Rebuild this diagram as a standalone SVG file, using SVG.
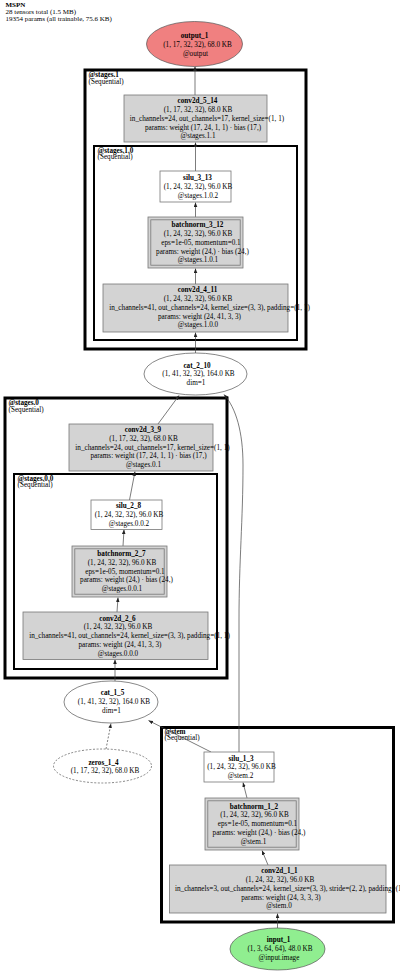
<svg xmlns="http://www.w3.org/2000/svg" width="400" height="973" viewBox="0 0 400 973">
<style>
text{font-family:"Liberation Serif","Times New Roman",serif;font-size:7.2px;fill:#000;text-anchor:middle}
.b{font-weight:bold}
.l{text-anchor:start}
.ttl{font-size:7px;text-anchor:start}
.box{fill:#d3d3d3;stroke:#777;stroke-width:0.8}
.wbox{fill:#fff;stroke:#777;stroke-width:0.8}
.in{fill:none;stroke:#777;stroke-width:0.8}
.ell{fill:#fff;stroke:#555;stroke-width:0.7}
.clu{fill:none;stroke:#000;stroke-width:3}
.clu2{fill:none;stroke:#000;stroke-width:2}
.e{fill:none;stroke:#444;stroke-width:0.7;marker-end:url(#a)}
</style>
<defs>
<marker id="a" markerUnits="userSpaceOnUse" markerWidth="5" markerHeight="4" refX="4.5" refY="2" orient="auto"><path d="M0,0.2 L4.5,2 L0,3.8 z" fill="#222"/></marker>
</defs>
<rect width="400" height="973" fill="#fff"/>
<text class="ttl b" x="5.5" y="7.2">MSPN</text>
<text class="ttl" x="5.5" y="14.3">28 tensors total (1.5 MB)</text>
<text class="ttl" x="5.5" y="21.4">19354 params (all trainable, 75.6 KB)</text>

<g id="clusters">
<g id="stages.1"><rect class="clu" x="85" y="70" width="221" height="279"/><text class="l b" x="88.5" y="77.3">@stages.1</text><text class="l" x="88.5" y="83.8">(Sequential)</text></g>
<g id="stages.1.0"><rect class="clu2" x="94" y="146" width="203" height="194"/><text class="l b" x="97.5" y="152.6">@stages.1.0</text><text class="l" x="97.5" y="159.1">(Sequential)</text></g>
<g id="stages.0"><rect class="clu" x="5" y="398" width="222" height="280"/><text class="l b" x="8.5" y="405">@stages.0</text><text class="l" x="8.5" y="411.6">(Sequential)</text></g>
<g id="stages.0.0"><rect class="clu2" x="14" y="474" width="203" height="195"/><text class="l b" x="17.5" y="480.6">@stages.0.0</text><text class="l" x="17.5" y="487.2">(Sequential)</text></g>
<g id="stem"><rect class="clu" x="161.5" y="727.5" width="232" height="194.5"/><text class="l b" x="164.5" y="733.8">@stem</text><text class="l" x="164.5" y="740.4">(Sequential)</text></g>
</g>

<g id="connectors">
<path class="e" d="M277.5,928 L277.5,913.5"/>
<path class="e" d="M268,865 L262,850.5"/>
<path class="e" d="M247,798 L243,782.5"/>
<path class="e" d="M211,752 L148.5,720.5"/>
<path class="e" d="M239,752 L239,620 C239,560 243,520 243,465 C243,432 236,408 224,394.5"/>
<path class="e" d="M106,749 L111,723.5" stroke-dasharray="2,1.6"/>
<path class="e" d="M115,681 L115,659.5"/>
<path class="e" d="M117,612 L118,597.5"/>
<path class="e" d="M123,546 L124,529.5"/>
<path class="e" d="M129.5,500 L135,471.5"/>
<path class="e" d="M158,424 L179,395.5"/>
<path class="e" d="M195.5,353 L195.5,332.5"/>
<path class="e" d="M195.5,284 L195.5,268.5"/>
<path class="e" d="M195.5,217 L195.5,202.5"/>
<path class="e" d="M195.5,171 L195.5,142.5"/>
<path class="e" d="M195,95 L195,66.5"/>
</g>

<g id="output_1">
<ellipse cx="194.5" cy="44" rx="48" ry="22.5" fill="#f08080" stroke="#555" stroke-width="0.7"/>
<text class="b" x="194.5" y="38.4">output_1</text>
<text x="197.5" y="47.2">(1, 17, 32, 32), 68.0 KB</text>
<text x="195.5" y="56">@output</text>
</g>

<g id="conv2d_5_14">
<rect class="box" x="124" y="95" width="143" height="47"/>
<text class="b" x="197.5" y="103.3">conv2d_5_14</text>
<text x="198" y="112.05">(1, 17, 32, 32), 68.0 KB</text>
<text x="207" y="120.8">in_channels=24, out_channels=17, kernel_size=(1, 1)</text>
<text x="203" y="129.55">params: weight (17, 24, 1, 1) · bias (17,)</text>
<text x="198" y="138.3">@stages.1.1</text>
</g>

<g id="silu_3_13">
<rect class="wbox" x="160" y="171" width="71" height="31"/>
<text class="b" x="197.5" y="180.05">silu_3_13</text>
<text x="198" y="188.8">(1, 24, 32, 32), 96.0 KB</text>
<text x="198" y="197.55">@stages.1.0.2</text>
</g>

<g id="batchnorm_3_12">
<rect class="box" x="148" y="217" width="95" height="51"/>
<rect class="in" x="150.8" y="219.8" width="89.4" height="45.4"/>
<text class="b" x="197.5" y="227.3">batchnorm_3_12</text>
<text x="198" y="236.05">(1, 24, 32, 32), 96.0 KB</text>
<text x="201" y="244.8">eps=1e-05, momentum=0.1</text>
<text x="202.5" y="253.55">params: weight (24,) · bias (24,)</text>
<text x="198" y="262.3">@stages.1.0.1</text>
</g>

<g id="conv2d_4_11">
<rect class="box" x="103" y="284" width="185" height="48"/>
<text class="b" x="197.5" y="292.3">conv2d_4_11</text>
<text x="198" y="301.05">(1, 24, 32, 32), 96.0 KB</text>
<text x="209.5" y="309.8">in_channels=41, out_channels=24, kernel_size=(3, 3), padding=(1, 1)</text>
<text x="199.5" y="318.55">params: weight (24, 41, 3, 3)</text>
<text x="198" y="327.3">@stages.1.0.0</text>
</g>

<g id="cat_2_10">
<ellipse class="ell" cx="195.5" cy="374" rx="51.5" ry="21"/>
<text class="b" x="197" y="367.5">cat_2_10</text>
<text x="198.5" y="376.3">(1, 41, 32, 32), 164.0 KB</text>
<text x="196" y="385">dim=1</text>
</g>

<g id="conv2d_3_9">
<rect class="box" x="69" y="424" width="144" height="47"/>
<text class="b" x="143" y="432">conv2d_3_9</text>
<text x="143.5" y="440.75">(1, 17, 32, 32), 68.0 KB</text>
<text x="152.5" y="449.5">in_channels=24, out_channels=17, kernel_size=(1, 1)</text>
<text x="148.5" y="458.25">params: weight (17, 24, 1, 1) · bias (17,)</text>
<text x="143.5" y="467">@stages.0.1</text>
</g>

<g id="silu_2_8">
<rect class="wbox" x="91" y="500" width="71" height="29.5"/>
<text class="b" x="128.5" y="508.05">silu_2_8</text>
<text x="129" y="516.8">(1, 24, 32, 32), 96.0 KB</text>
<text x="129" y="525.55">@stages.0.0.2</text>
</g>

<g id="batchnorm_2_7">
<rect class="box" x="72" y="546" width="95" height="51"/>
<rect class="in" x="74.8" y="548.8" width="89.4" height="45.4"/>
<text class="b" x="121.5" y="556">batchnorm_2_7</text>
<text x="122" y="564.75">(1, 24, 32, 32), 96.0 KB</text>
<text x="125" y="573.5">eps=1e-05, momentum=0.1</text>
<text x="126.5" y="582.25">params: weight (24,) · bias (24,)</text>
<text x="122" y="591">@stages.0.0.1</text>
</g>

<g id="conv2d_2_6">
<rect class="box" x="23" y="612" width="185" height="47.5"/>
<text class="b" x="117.5" y="620.5">conv2d_2_6</text>
<text x="118" y="629.25">(1, 24, 32, 32), 96.0 KB</text>
<text x="129.5" y="638">in_channels=41, out_channels=24, kernel_size=(3, 3), padding=(1, 1)</text>
<text x="120" y="646.75">params: weight (24, 41, 3, 3)</text>
<text x="118" y="655.5">@stages.0.0.0</text>
</g>

<g id="cat_1_5">
<ellipse class="ell" cx="111" cy="702" rx="47" ry="21"/>
<text class="b" x="112.5" y="695">cat_1_5</text>
<text x="114" y="704.3">(1, 41, 32, 32), 164.0 KB</text>
<text x="111.5" y="713">dim=1</text>
</g>

<g id="zeros_1_4">
<ellipse class="ell" cx="102.5" cy="766" rx="49" ry="17" stroke-dasharray="2,1.6"/>
<text class="b" x="103.5" y="764.6">zeros_1_4</text>
<text x="105" y="773">(1, 17, 32, 32), 68.0 KB</text>
</g>

<g id="silu_1_3">
<rect class="wbox" x="204" y="752" width="70" height="30"/>
<text class="b" x="241" y="760.55">silu_1_3</text>
<text x="241.5" y="769.3">(1, 24, 32, 32), 96.0 KB</text>
<text x="240.5" y="778.05">@stem.2</text>
</g>

<g id="batchnorm_1_2">
<rect class="box" x="205" y="798" width="94" height="52"/>
<rect class="in" x="207.8" y="800.8" width="88.4" height="46.4"/>
<text class="b" x="254" y="808.5">batchnorm_1_2</text>
<text x="254.5" y="817.25">(1, 24, 32, 32), 96.0 KB</text>
<text x="257.5" y="826">eps=1e-05, momentum=0.1</text>
<text x="259" y="834.75">params: weight (24,) · bias (24,)</text>
<text x="253.5" y="843.5">@stem.1</text>
</g>

<g id="conv2d_1_1">
<rect class="box" x="169.5" y="865" width="216.5" height="48"/>
<text class="b" x="279.5" y="873.3">conv2d_1_1</text>
<text x="280" y="882.05">(1, 24, 32, 32), 96.0 KB</text>
<text class="l" x="175" y="890.8">in_channels=3, out_channels=24, kernel_size=(3, 3), stride=(2, 2), padding=(1, 1)</text>
<text x="281" y="899.55">params: weight (24, 3, 3, 3)</text>
<text x="279" y="908.3">@stem.0</text>
</g>

<g id="input_1">
<ellipse cx="277.5" cy="949" rx="47.5" ry="21" fill="#90ee90" stroke="#555" stroke-width="0.7"/>
<text class="b" x="278.5" y="942.3">input_1</text>
<text x="280" y="951.3">(1, 3, 64, 64), 48.0 KB</text>
<text x="279" y="960">@input.image</text>
</g>
</svg>
